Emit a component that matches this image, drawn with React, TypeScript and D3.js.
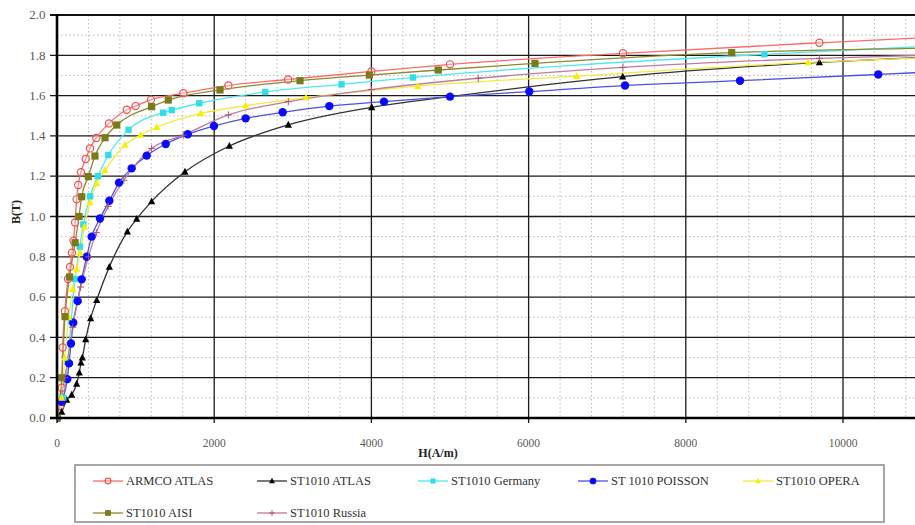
import React from "react";
import * as d3 from "d3";

// ---- data (H in A/m, B in T) ----
const armcoH = [0, 40, 60, 72, 100, 140, 165, 190, 210, 230, 250, 270, 305, 365, 420, 500, 662, 887, 1000, 1196, 1607, 2180, 2940, 4000, 5000, 7200, 9700, 11000];
const armcoB = [0, 0.06, 0.15, 0.35, 0.53, 0.69, 0.75, 0.82, 0.88, 0.97, 1.085, 1.156, 1.22, 1.285, 1.338, 1.39, 1.462, 1.53, 1.548, 1.58, 1.612, 1.65, 1.68, 1.72, 1.755, 1.81, 1.862, 1.887];

const atlasH = [0, 60, 123, 187, 250, 284, 305, 322, 365, 428, 505, 666, 895, 1014, 1204, 1628, 2193, 2943, 4004, 5000, 7197, 9700, 11000];
const atlasB = [0, 0.03, 0.09, 0.115, 0.17, 0.225, 0.275, 0.3, 0.39, 0.495, 0.585, 0.75, 0.925, 0.988, 1.075, 1.222, 1.35, 1.455, 1.542, 1.595, 1.694, 1.765, 1.79];

const germanyH = [0, 80, 136, 180, 229, 290, 335, 420, 520, 653, 910, 1350, 1460, 1810, 2650, 3620, 4530, 9000, 11000];
const germanyB = [0, 0.1, 0.28, 0.48, 0.69, 0.85, 0.96, 1.1, 1.2, 1.305, 1.43, 1.515, 1.528, 1.562, 1.618, 1.656, 1.69, 1.805, 1.843];

const poissonH = [0, 60, 131, 153, 178, 207, 263, 314, 378, 441, 547, 666, 789, 950, 1141, 1383, 1663, 1997, 2400, 2871, 3465, 4160, 5000, 6009, 7227, 8690, 10449, 11000];
const poissonB = [0, 0.08, 0.193, 0.271, 0.37, 0.473, 0.58, 0.688, 0.8, 0.9, 0.99, 1.078, 1.168, 1.239, 1.302, 1.36, 1.408, 1.449, 1.487, 1.517, 1.548, 1.57, 1.595, 1.62, 1.65, 1.674, 1.705, 1.715];

const operaH = [0, 60, 100, 150, 200, 250, 293, 350, 420, 505, 611, 865, 1065, 1268, 1832, 2400, 3168, 4589, 6612, 9559, 11000];
const operaB = [0, 0.1, 0.3, 0.5, 0.64, 0.74, 0.82, 0.95, 1.07, 1.165, 1.23, 1.355, 1.405, 1.443, 1.512, 1.55, 1.59, 1.647, 1.697, 1.765, 1.787];

const aisiH = [0, 60, 102, 160, 230, 280, 314, 398, 483, 611, 760, 1204, 1416, 2074, 3092, 3974, 4851, 6081, 8584, 11000];
const aisiB = [0, 0.2, 0.503, 0.7, 0.87, 1.0, 1.098, 1.198, 1.3, 1.391, 1.454, 1.545, 1.578, 1.628, 1.674, 1.702, 1.727, 1.76, 1.813, 1.835];

const russiaH = [0, 100, 200, 300, 400, 500, 650, 850, 1204, 1607, 2180, 2943, 4000, 5360, 7200, 9700, 11000];
const russiaB = [0, 0.2, 0.45, 0.65, 0.8, 0.92, 1.05, 1.18, 1.338, 1.404, 1.504, 1.57, 1.63, 1.686, 1.74, 1.785, 1.8];

const seriesNames = ["ARMCO ATLAS", "ST1010 ATLAS", "ST1010 Germany", "ST 1010 POISSON", "ST1010 OPERA", "ST1010 AISI", "ST1010 Russia"];

const xTicks = [0, 2000, 4000, 6000, 8000, 10000, 12000];
const yTicks = [0, 0.2, 0.4, 0.6, 0.8, 1.0, 1.2, 1.4, 1.6, 1.8, 2.0];

type Style = { line: string; marker: string; shape: "circleOpen" | "triangle" | "square" | "circle" | "plus"; size: number };

const styles: Style[] = [
  { line: "#ff6a6a", marker: "#f05050", shape: "circleOpen", size: 3.6 },
  { line: "#333333", marker: "#000000", shape: "triangle", size: 3.6 },
  { line: "#50e8f0", marker: "#30dde8", shape: "square", size: 3.2 },
  { line: "#5050e0", marker: "#0a0aff", shape: "circle", size: 4.2 },
  { line: "#f2ea40", marker: "#f5f000", shape: "triangle", size: 3.6 },
  { line: "#8a8a30", marker: "#7a7a18", shape: "square", size: 3.6 },
  { line: "#c07aa0", marker: "#b0507a", shape: "plus", size: 3.6 },
];

const dataH = [armcoH, atlasH, germanyH, poissonH, operaH, aisiH, russiaH];
const dataB = [armcoB, atlasB, germanyB, poissonB, operaB, aisiB, russiaB];

const W = 915;
const H = 525;
const x = d3.scaleLinear().domain([0, 12000]).range([57, 1000.2]);
const y = d3.scaleLinear().domain([0, 2]).range([418, 15]);

function Marker({ cx, cy, st }: { cx: number; cy: number; st: Style }) {
  const s = st.size;
  switch (st.shape) {
    case "circleOpen":
      return <circle cx={cx} cy={cy} r={s} fill="#fff4f4" fillOpacity={0.3} stroke={st.marker} strokeWidth={1.2} />;
    case "circle":
      return <circle cx={cx} cy={cy} r={s} fill={st.marker} />;
    case "square":
      return <rect x={cx - s} y={cy - s} width={2 * s} height={2 * s} fill={st.marker} />;
    case "triangle":
      return <path d={`M${cx},${cy - s * 1.1}L${cx + s},${cy + s * 0.8}L${cx - s},${cy + s * 0.8}Z`} fill={st.marker} />;
    case "plus":
      return (
        <path d={`M${cx - s},${cy}H${cx + s}M${cx},${cy - s}V${cy + s}`} stroke={st.marker} strokeWidth={1} fill="none" />
      );
  }
  return null;
}

export default function App() {
  const xMaxVisible = x.invert(W);
  const line = d3
    .line<[number, number]>()
    .x((d) => x(d[0]))
    .y((d) => y(d[1]))
    .curve(d3.curveMonotoneX);

  const minorX = d3.range(400, 12000, 400).filter((v) => v % 2000 !== 0);
  const minorY = d3.range(1, 20, 2).map((v) => v / 10);

  const legendCols = [93, 257, 418, 578, 743];
  const legendRows = [481, 513];

  return (
    <div style={{ position: "absolute", left: 0, top: 0, width: W, height: H, overflow: "hidden", background: "#fff" }}>
      <svg width={W} height={H} style={{ display: "block" }}>
        <defs>
          <clipPath id="plotClip">
            <rect x={57} y={8} width={W - 57} height={414} />
          </clipPath>
        </defs>
        {/* minor grid */}
        <g stroke="#b8b8b8" strokeWidth={1} strokeDasharray="1.5,2.5">
          {minorX.map((v) => (
            <line key={"mx" + v} x1={x(v)} x2={x(v)} y1={y(2)} y2={y(0)} />
          ))}
          {minorY.map((v) => (
            <line key={"my" + v} x1={x(0)} x2={W} y1={y(v)} y2={y(v)} />
          ))}
        </g>
        {/* major grid */}
        <g stroke="#1a1a1a" strokeWidth={1.3}>
          {xTicks.slice(1).map((v) => (
            <line key={"gx" + v} x1={x(v)} x2={x(v)} y1={y(2)} y2={y(0) + 5} />
          ))}
          {yTicks.slice(1).map((v) => (
            <line key={"gy" + v} x1={x(0) - 7} x2={W} y1={y(v)} y2={y(v)} />
          ))}
        </g>
        <line x1={x(0) - 7} x2={W} y1={y(2)} y2={y(2)} stroke="#111" strokeWidth={2} />
        {/* series */}
        <g clipPath="url(#plotClip)">
          {dataH.map((hs, i) => {
            const pts = hs.map((h, j) => [h, dataB[i][j]] as [number, number]);
            return <path key={"l" + i} d={line(pts) || ""} fill="none" stroke={styles[i].line} strokeWidth={1.3} />;
          })}
          {dataH.map((hs, i) => (
            <g key={"m" + i}>
              {hs.map((h, j) =>
                h <= xMaxVisible ? <Marker key={j} cx={x(h)} cy={y(dataB[i][j])} st={styles[i]} /> : null
              )}
            </g>
          ))}
        </g>
        {/* axes */}
        <line x1={x(0)} x2={x(0)} y1={y(2) - 1} y2={y(0) + 1} stroke="#000" strokeWidth={2.6} />
        <line x1={x(0) - 7} x2={W} y1={y(0)} y2={y(0)} stroke="#000" strokeWidth={2.6} />
        <line x1={x(0) - 7} x2={x(0)} y1={y(0)} y2={y(0)} stroke="#000" strokeWidth={1.3} />
        <line x1={x(0)} x2={x(0)} y1={y(0)} y2={y(0) + 5} stroke="#000" strokeWidth={1.3} />
        {/* tick labels */}
        <g fontFamily="'Liberation Serif', 'Times New Roman', serif" fill="#5a5a5a">
          {yTicks.map((v) => (
            <text key={"yl" + v} x={45.5} y={y(v)} dy="0.33em" textAnchor="end" fontSize={13}>
              {v.toFixed(1)}
            </text>
          ))}
          {xTicks
            .filter((v) => x(v) < W - 10)
            .map((v) => (
              <text key={"xl" + v} x={x(v)} y={446.5} textAnchor="middle" fontSize={11.5}>
                {String(v)}
              </text>
            ))}
        </g>
        <text x={438} y={457} textAnchor="middle" fontFamily="'Liberation Serif', serif" fontWeight="bold" fontSize={12} fill="#222">
          H(A/m)
        </text>
        <text
          transform={`translate(20,212) rotate(-90)`}
          textAnchor="middle"
          fontFamily="'Liberation Serif', serif"
          fontWeight="bold"
          fontSize={12}
          fill="#222"
        >
          B(T)
        </text>
        {/* legend */}
        <rect x={75} y={465} width={809} height={57} fill="#fff" stroke="#8a8a8a" strokeWidth={1.5} />
        {seriesNames.map((name, i) => {
          const col = legendCols[i % 5];
          const row = legendRows[Math.floor(i / 5)];
          const st = styles[i];
          return (
            <g key={"lg" + i}>
              <line x1={col} x2={col + 30} y1={row} y2={row} stroke={st.line} strokeWidth={1.3} />
              <Marker cx={col + 15} cy={row} st={{ ...st, size: st.size * 0.8 }} />
              <text
                x={col + 33}
                y={row}
                dy="0.33em"
                fontFamily="'Liberation Serif', serif"
                fontSize={12.5}
                fill="#333"
              >
                {name}
              </text>
            </g>
          );
        })}
      </svg>
    </div>
  );
}
